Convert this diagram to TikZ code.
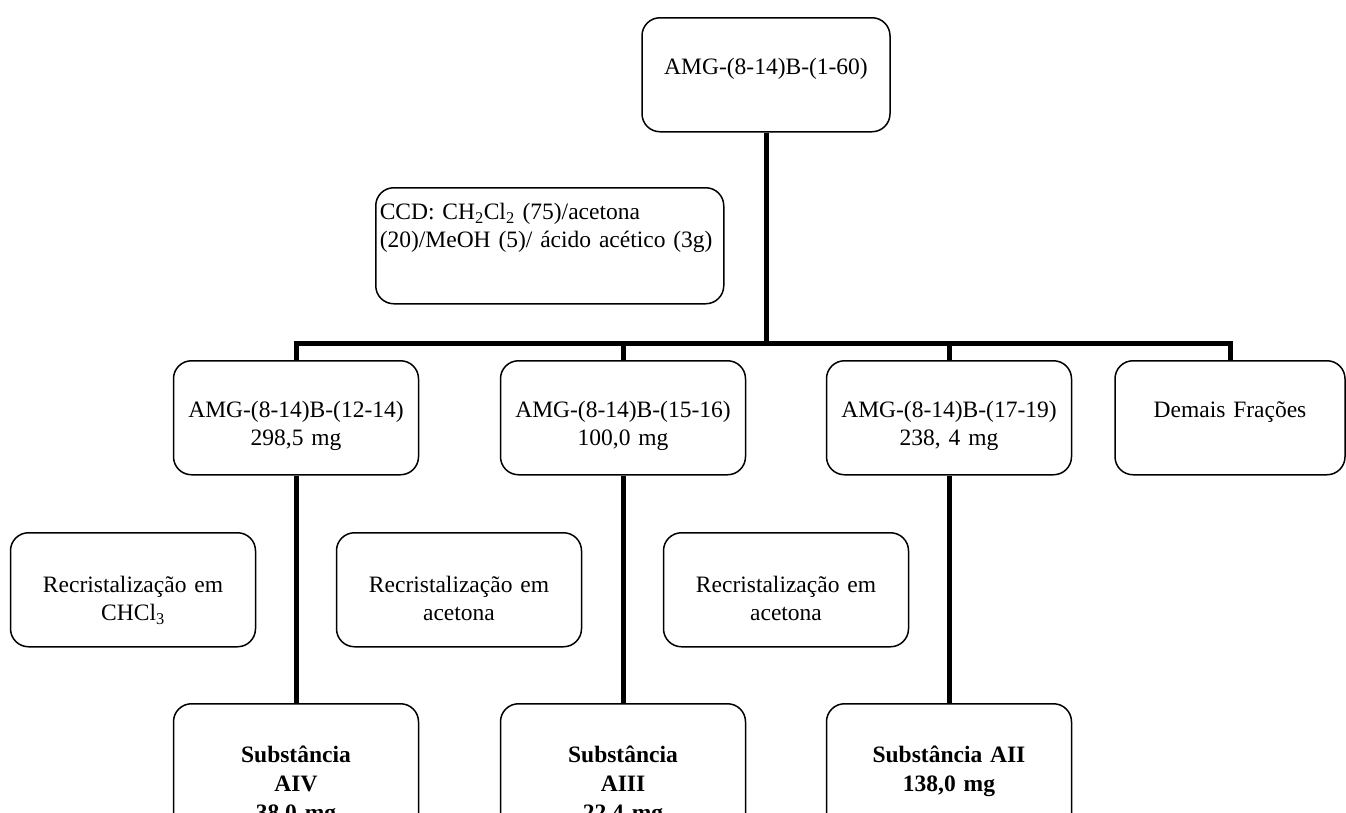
\documentclass[tikz,border=0pt]{standalone}
\usepackage{fontspec}
\setmainfont{Liberation Serif}
\tikzset{
  stage/.style={draw,line width=1.5pt,rounded corners=18pt,align=center,inner xsep=6pt,inner ysep=0pt,
    text width=233pt,text height=57pt,text depth=57pt,anchor=north},
  recryst/.style={stage,text height=60pt,text depth=54pt},
  product/.style={stage,text height=59pt,text depth=80pt,font=\fontsize{23.5}{29}\selectfont\bfseries},
  note/.style={stage,align=left,inner xsep=4pt,text width=340pt,text height=32pt,text depth=84pt,anchor=north west},
  trunk/.style={line width=5pt},
}
\begin{document}
\begin{tikzpicture}[x=1pt,y=-1pt,font=\fontsize{23.5}{28}\selectfont]
\clip (0,0) rectangle (1346,812);
% origem
\node[stage,text width=236pt] (top) at (766,17) {AMG-(8-14)B-(1-60)};
\node[note] (ccd) at (375,187) {CCD: CH\textsubscript{2}Cl\textsubscript{2} (75)/acetona\\(20)/MeOH (5)/ ácido acético (3g)};
\coordinate (split) at (766,343.5);
% frações
\node[stage] (fr1) at (296,360) {AMG-(8-14)B-(12-14)\\298,5 mg};
\node[stage] (fr2) at (623,360) {AMG-(8-14)B-(15-16)\\100,0 mg};
\node[stage] (fr3) at (949,360) {AMG-(8-14)B-(17-19)\\238, 4 mg};
\node[stage,text width=218pt] (fr4) at (1230,360) {Demais Frações};
% recristalizações
\node[recryst] (rc1) at (133,532) {Recristalização em\\CHCl\textsubscript{3}};
\node[recryst] (rc2) at (459,532) {Recristalização em\\acetona};
\node[recryst] (rc3) at (786,532) {Recristalização em\\acetona};
% substâncias
\node[product] (sb1) at (296,703) {Substância\\AIV\\38,0 mg};
\node[product] (sb2) at (623,703) {Substância\\AIII\\22,4 mg};
\node[product] (sb3) at (949,703) {Substância AII\\138,0 mg};
% ligações
\draw[trunk] (top.south) -- (split);
\draw[trunk] (fr1.north) -- (fr1.north |- split) -- (fr4.north |- split) -- (fr4.north);
\draw[trunk] (fr2.north) -- (fr2.north |- split);
\draw[trunk] (fr3.north) -- (fr3.north |- split);
\draw[trunk] (fr1.south) -- (sb1.north);
\draw[trunk] (fr2.south) -- (sb2.north);
\draw[trunk] (fr3.south) -- (sb3.north);
\end{tikzpicture}
\end{document}
